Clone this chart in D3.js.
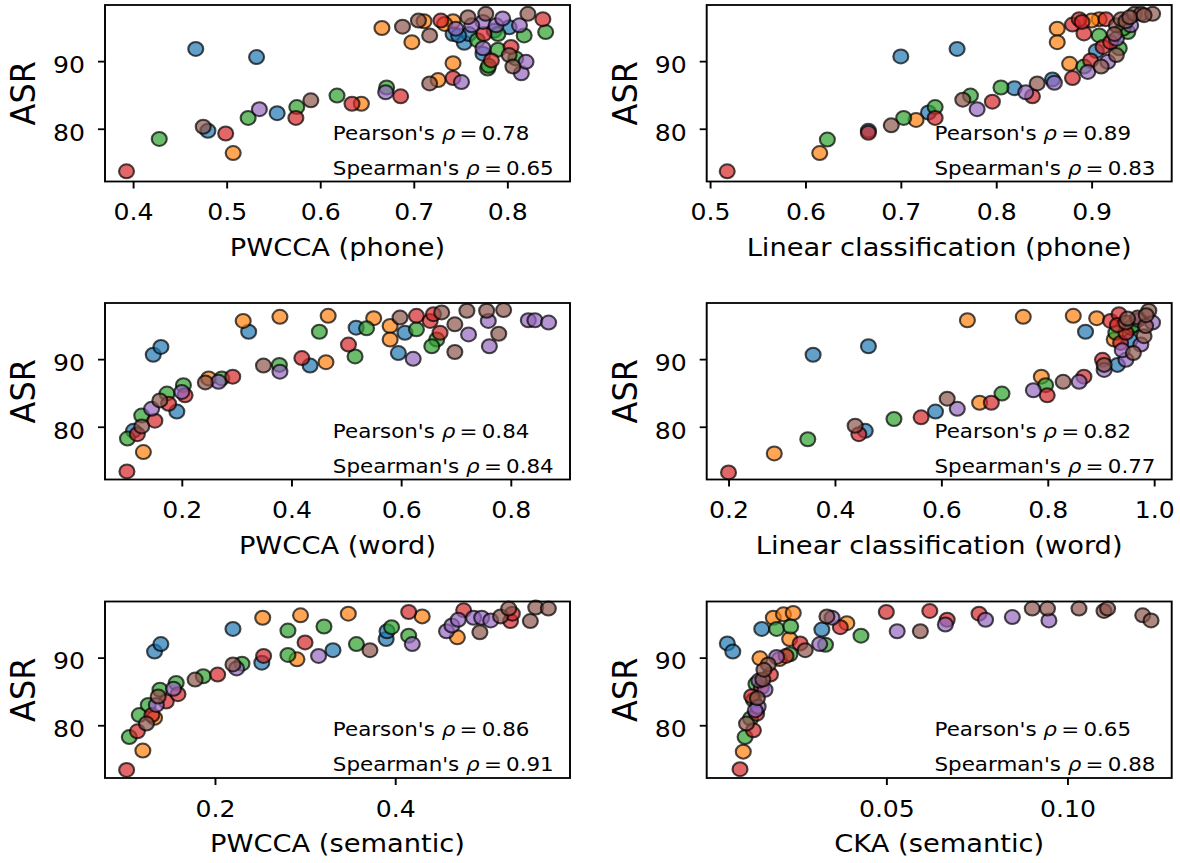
<!DOCTYPE html>
<html>
<head>
<meta charset="utf-8">
<script src="https://cdn.jsdelivr.net/npm/d3@7"></script>
<style>
  body { margin: 0; background: #fff; }
  text { font-family: "DejaVu Sans", sans-serif; fill: #000; }
</style>
</head>
<body>
<svg id="fig" width="1180" height="863"></svg>
<script>
// Model groups, drawn in this order: 0 blue, 1 orange, 2 green, 3 red, 4 purple, 5 brown
const groupColors = ["#1f77b4", "#ff7f0e", "#2ca02c", "#d62728", "#9467bd", "#8c564b"];

// Each point: [probe score, ASR, model group]
const pwccaPhone = [
  [0.393,73.7,3],[0.428,78.5,2],[0.475,80.3,5],[0.480,79.7,0],[0.499,79.3,3],[0.507,76.4,1],
  [0.467,91.8,0],[0.532,90.6,0],[0.523,81.6,2],[0.535,82.9,4],[0.554,82.3,0],[0.575,83.2,2],
  [0.574,81.6,3],[0.590,84.2,5],[0.618,84.9,2],[0.634,83.7,3],[0.644,83.7,1],[0.671,86.1,2],
  [0.670,85.4,4],[0.686,84.8,3],[0.717,86.7,5],[0.726,87.2,1],[0.742,89.7,1],[0.742,87.5,3],
  [0.751,86.9,4],[0.666,94.9,1],[0.688,95.1,5],[0.698,92.8,1],[0.705,96.0,5],[0.711,95.9,1],
  [0.717,93.8,5],[0.729,96.0,3],[0.742,95.9,1],[0.742,94.0,0],[0.745,94.8,4],[0.758,96.5,5],
  [0.754,92.7,0],[0.759,94.0,0],[0.775,94.0,3],[0.768,93.1,2],[0.777,97.0,5],[0.774,91.9,4],
  [0.774,95.8,4],[0.774,91.1,0],[0.783,90.1,3],[0.779,88.9,2],[0.788,95.3,4],[0.790,91.7,2],
  [0.790,94.0,2],[0.802,95.0,0],[0.804,92.1,3],[0.802,90.9,5],[0.809,90.4,2],[0.806,89.2,5],
  [0.815,88.2,4],[0.820,89.9,4],[0.818,93.8,2],[0.813,95.3,4],[0.822,97.0,5],[0.838,96.2,3],
  [0.841,94.3,2],[0.762,95.3,4],[0.795,96.3,4],[0.786,94.5,0],[0.748,93.8,0],[0.733,95.5,1],
  [0.780,89.3,2]
];
const linearPhone = [
  [0.518,73.7,3],[0.615,76.4,1],[0.623,78.4,2],[0.666,79.7,0],[0.666,79.4,3],[0.690,80.5,5],
  [0.703,81.6,2],[0.716,81.3,1],[0.729,82.4,0],[0.736,83.2,2],[0.736,81.6,3],[0.700,90.7,0],
  [0.759,91.8,0],[0.765,84.3,5],[0.773,84.9,2],[0.780,82.9,4],[0.796,84.0,3],[0.805,86.1,2],
  [0.819,86.0,0],[0.831,85.4,4],[0.838,84.8,3],[0.843,86.7,5],[0.859,87.3,0],[0.861,86.8,4],
  [0.880,87.5,3],[0.877,89.6,1],[0.892,89.2,2],[0.896,88.4,4],[0.899,90.1,3],[0.910,89.2,5],
  [0.917,89.9,4],[0.926,90.9,5],[0.912,92.1,3],[0.929,91.9,2],[0.864,94.8,1],[0.864,92.8,1],
  [0.880,95.4,3],[0.887,96.2,3],[0.892,94.1,3],[0.908,93.8,2],[0.908,96.2,1],[0.915,96.2,3],
  [0.926,95.3,5],[0.931,96.2,5],[0.926,93.3,4],[0.938,94.3,2],[0.936,95.9,5],[0.945,97.0,5],
  [0.952,97.0,5],[0.964,97.0,5],[0.941,95.3,4],[0.924,94.0,5],[0.940,96.5,5],[0.955,96.8,5],
  [0.933,94.8,2],[0.920,92.8,3],[0.905,91.5,0],[0.900,96.0,1],[0.890,95.8,3]
];
const pwccaWord = [
  [0.100,73.4,3],[0.130,76.25,1],[0.101,78.25,2],[0.119,78.9,3],[0.112,79.4,0],[0.127,80.05,5],
  [0.127,81.65,2],[0.151,80.9,3],[0.145,82.65,4],[0.160,83.9,5],[0.176,83.4,3],[0.173,84.9,2],
  [0.191,82.25,0],[0.203,86.15,2],[0.206,84.65,3],[0.200,85.15,4],[0.243,86.55,5],[0.249,87.15,1],
  [0.267,86.65,4],[0.273,87.15,2],[0.293,87.4,3],[0.148,90.65,0],[0.162,91.8,0],[0.312,95.65,1],
  [0.322,94.05,0],[0.379,96.25,1],[0.349,89.05,5],[0.378,89.15,2],[0.379,88.15,4],[0.419,90.15,3],
  [0.434,89.05,0],[0.463,89.55,1],[0.467,96.4,1],[0.451,94.05,2],[0.504,92.15,3],[0.516,90.4,2],
  [0.518,94.65,0],[0.537,94.55,2],[0.550,96.05,1],[0.580,94.9,1],[0.580,92.9,1],[0.598,96.15,5],
  [0.595,90.9,0],[0.607,93.9,0],[0.628,94.4,2],[0.628,96.4,3],[0.622,90.05,4],[0.653,95.65,3],
  [0.659,96.65,3],[0.674,96.9,5],[0.671,93.9,3],[0.665,92.9,2],[0.656,91.9,2],[0.698,95.15,5],
  [0.698,91.05,5],[0.723,93.65,4],[0.720,97.15,5],[0.756,97.15,5],[0.759,95.65,4],[0.761,91.9,4],
  [0.778,93.75,5],[0.787,97.25,5],[0.832,95.75,4],[0.844,95.75,4],[0.869,95.4,4]
];
const linearWord = [
  [0.200,73.25,3],[0.286,76.05,1],[0.349,78.15,2],[0.438,80.15,5],[0.445,78.9,3],[0.457,79.4,0],
  [0.511,81.15,2],[0.562,81.4,3],[0.589,82.25,0],[0.611,84.15,5],[0.630,82.65,4],[0.672,83.55,1],
  [0.694,83.55,3],[0.714,84.9,2],[0.773,85.4,4],[0.788,87.4,1],[0.796,86.15,2],[0.799,84.65,3],
  [0.829,86.65,5],[0.859,86.65,4],[0.868,87.4,3],[0.359,90.65,0],[0.463,91.9,0],[0.649,95.75,1],
  [0.754,96.25,1],[0.848,96.4,1],[0.871,94.05,0],[0.892,96.05,1],[0.903,89.9,3],[0.906,88.4,4],
  [0.906,89.15,5],[0.931,89.15,0],[0.947,89.9,4],[0.961,90.9,5],[0.975,92.15,4],[0.918,95.65,3],
  [0.934,96.65,3],[0.925,92.9,1],[0.937,92.4,3],[0.928,93.9,2],[0.947,93.9,3],[0.947,95.4,5],
  [0.931,95.05,3],[0.956,94.65,2],[0.969,96.15,5],[0.981,93.4,5],[0.990,97.15,5],[0.997,95.4,4],
  [0.984,94.9,5],[0.950,96.0,5],[0.970,95.8,4],[0.960,95.0,2],[0.940,91.3,4],[0.955,92.8,0],
  [0.985,96.5,5]
];
const pwccaSemantic = [
  [0.102,73.4,3],[0.120,76.25,1],[0.105,78.25,2],[0.114,79.1,3],[0.124,80.25,5],[0.116,81.5,2],
  [0.130,81.5,3],[0.133,81.1,1],[0.126,83.0,2],[0.135,83.0,4],[0.137,84.25,5],[0.139,85.25,2],
  [0.146,83.5,3],[0.157,86.25,2],[0.154,85.4,4],[0.159,84.6,3],[0.178,86.75,5],[0.187,87.25,2],
  [0.203,87.5,3],[0.133,90.9,0],[0.140,92.0,0],[0.220,94.25,0],[0.220,89.0,5],[0.230,89.1,2],
  [0.224,88.4,4],[0.252,89.25,0],[0.254,90.25,3],[0.253,95.9,1],[0.295,96.25,1],[0.281,94.0,2],
  [0.281,90.4,2],[0.291,89.75,1],[0.300,92.25,3],[0.315,90.25,4],[0.331,91.1,0],[0.321,94.6,2],
  [0.348,96.5,1],[0.357,92.0,2],[0.372,91.1,5],[0.390,92.75,0],[0.391,93.9,0],[0.396,94.5,2],
  [0.415,96.75,3],[0.430,96.1,1],[0.415,93.25,2],[0.419,92.0,4],[0.457,93.9,4],[0.469,93.0,1],
  [0.463,94.75,4],[0.476,97.0,3],[0.470,95.6,4],[0.487,95.9,4],[0.496,95.9,4],[0.494,93.75,5],
  [0.506,95.5,4],[0.517,96.1,5],[0.528,95.4,3],[0.526,97.25,5],[0.530,96.5,3],[0.550,95.4,5],
  [0.556,97.4,5],[0.570,97.25,5]
];
const ckaSemantic = [
  [0.0096,73.5,3],[0.0105,76.1,1],[0.0110,78.25,2],[0.0133,79.25,3],[0.0114,80.25,5],[0.0142,81.7,3],
  [0.0146,82.75,4],[0.0133,83.75,2],[0.0144,84.0,5],[0.0165,85.25,4],[0.0140,86.1,2],[0.0159,86.75,5],
  [0.0180,87.5,3],[0.0174,89.0,5],[0.0151,89.9,1],[0.0197,90.1,4],[0.0223,90.25,3],[0.0234,90.5,2],
  [0.0276,91.1,5],[0.0262,92.1,3],[0.0061,92.1,0],[0.0076,90.9,0],[0.0156,94.25,0],[0.0188,95.9,1],
  [0.0197,94.25,2],[0.0216,96.4,1],[0.0243,96.6,1],[0.0236,94.6,2],[0.0233,92.75,1],[0.0322,94.15,0],
  [0.0316,92.0,4],[0.0332,91.9,2],[0.0336,96.1,5],[0.0350,95.9,4],[0.0373,94.5,3],[0.0391,95.1,1],
  [0.0430,93.25,2],[0.0500,96.75,3],[0.0530,93.9,4],[0.0594,93.9,5],[0.0620,96.9,3],[0.0668,95.6,3],
  [0.0663,94.9,4],[0.0756,96.5,3],[0.0774,95.6,4],[0.0848,96.0,4],[0.0903,97.25,5],[0.0945,97.25,5],
  [0.0949,95.5,4],[0.1032,97.25,5],[0.1101,96.9,5],[0.1111,97.25,5],[0.1208,96.25,5],[0.1231,95.5,5],
  [0.0125,81.0,2],[0.0138,82.2,4],[0.0155,85.6,3],[0.0148,86.6,4],[0.0162,88.2,5],[0.0205,89.8,1],
  [0.0128,84.3,3]
];

const panelData = [pwccaPhone, linearPhone, pwccaWord, linearWord, pwccaSemantic, ckaSemantic];
const xLabels = ["PWCCA (phone)", "Linear classification (phone)", "PWCCA (word)",
                 "Linear classification (word)", "PWCCA (semantic)", "CKA (semantic)"];
const xDomains = [[0.370, 0.867], [0.4965, 0.984], [0.060, 0.908],
                  [0.159, 1.033], [0.078, 0.594], [0.0004, 0.1288]];
const xTicks = [[0.4, 0.5, 0.6, 0.7, 0.8], [0.5, 0.6, 0.7, 0.8, 0.9], [0.2, 0.4, 0.6, 0.8],
                [0.2, 0.4, 0.6, 0.8, 1.0], [0.2, 0.4], [0.05, 0.10]];
const xTickLabels = [["0.4", "0.5", "0.6", "0.7", "0.8"], ["0.5", "0.6", "0.7", "0.8", "0.9"],
                     ["0.2", "0.4", "0.6", "0.8"], ["0.2", "0.4", "0.6", "0.8", "1.0"],
                     ["0.2", "0.4"], ["0.05", "0.10"]];
const pearson = ["0.78", "0.89", "0.84", "0.82", "0.86", "0.65"];
const spearman = ["0.65", "0.83", "0.84", "0.77", "0.91", "0.88"];
const asrDomain = [72.2, 98.3];
const asrTicks = [80, 90];
const asrTickLabels = ["80", "90"];
const yLabel = "ASR";

// Figure layout (screen pixels); the figure is rendered with a slight horizontal stretch.
const SX = 1.07;
const colLeft = [105, 706.7];
const rowTop = [5, 303, 601.5];
const axW = 465, axH = 176.5;
const tickLen = 7;

const svg = d3.select("#fig");
svg.append("rect").attr("width", 1180).attr("height", 863).attr("fill", "#fff");
const root = svg.append("g").attr("transform", `scale(${SX},1)`);

panelData.forEach((pts, i) => {
  const col = i % 2, row = Math.floor(i / 2);
  const w = axW / SX, h = axH;
  const g = root.append("g")
    .attr("transform", `translate(${colLeft[col] / SX},${rowTop[row]})`);

  const x = d3.scaleLinear().domain(xDomains[i]).range([0, w]);
  const y = d3.scaleLinear().domain(asrDomain).range([h, 0]);

  // points, one colour group at a time so later groups sit on top
  const sorted = pts.slice().sort((a, b) => a[2] - b[2]);
  g.append("g").selectAll("circle").data(sorted).join("circle")
    .attr("cx", d => x(d[0]))
    .attr("cy", d => y(d[1]))
    .attr("r", 7)
    .attr("fill", d => groupColors[d[2]])
    .attr("fill-opacity", 0.7)
    .attr("stroke", "#000")
    .attr("stroke-opacity", 0.7)
    .attr("stroke-width", 2);

  // x axis
  const xa = g.append("g").attr("transform", `translate(0,${h})`)
    .call(d3.axisBottom(x).tickValues(xTicks[i])
      .tickFormat((d, k) => xTickLabels[i][k])
      .tickSize(tickLen).tickPadding(15).tickSizeOuter(0));
  xa.select(".domain").remove();
  xa.selectAll(".tick line").attr("stroke", "#000").attr("stroke-width", 1.8);
  xa.selectAll(".tick text").attr("font-size", 23.5)
    .attr("font-family", "DejaVu Sans, sans-serif").attr("fill", "#000");

  // y axis
  const ya = g.append("g")
    .call(d3.axisLeft(y).tickValues(asrTicks)
      .tickFormat((d, k) => asrTickLabels[k])
      .tickSize(tickLen / SX).tickPadding(13 / SX).tickSizeOuter(0));
  ya.select(".domain").remove();
  ya.selectAll(".tick line").attr("stroke", "#000").attr("stroke-width", 1.8);
  ya.selectAll(".tick text").attr("font-size", 23.5).attr("dy", "0.48em")
    .attr("font-family", "DejaVu Sans, sans-serif").attr("fill", "#000");

  // frame
  g.append("rect").attr("width", w).attr("height", h)
    .attr("fill", "none").attr("stroke", "#000").attr("stroke-width", 1.8);

  // axis labels
  g.append("text").attr("x", w / 2).attr("y", h + 74.5)
    .attr("text-anchor", "middle").attr("font-size", 25.5).text(xLabels[i]);
  g.append("text")
    .attr("transform", `translate(${-70 / SX},${h / 2}) rotate(-90)`)
    .attr("text-anchor", "middle").attr("font-size", 32).text(yLabel);

  // correlation annotations
  const notes = [["Pearson's ", pearson[i], 41.5], ["Spearman's ", spearman[i], 6.5]];
  notes.forEach(([name, val, off]) => {
    const t = g.append("text").attr("x", 0.49 * w).attr("y", h - off).attr("font-size", 20);
    t.append("tspan").text(name);
    t.append("tspan").attr("font-style", "italic").text("\u03C1");
    t.append("tspan").text("\u2009=\u2009" + val);
  });
});
</script>
</body>
</html>
